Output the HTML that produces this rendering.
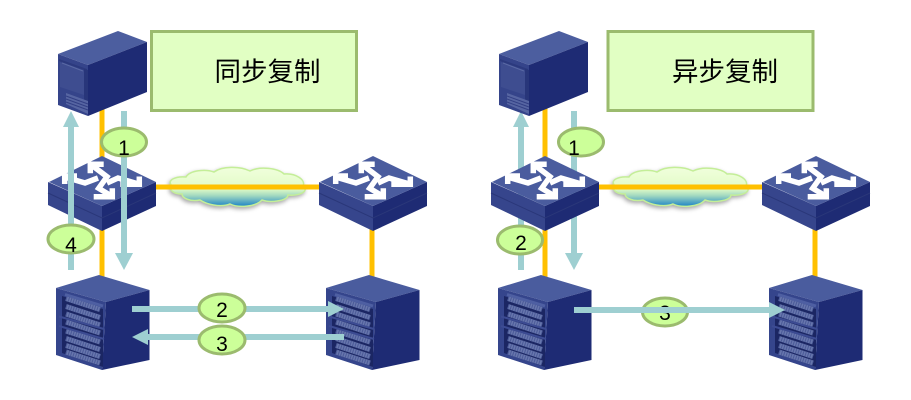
<!DOCTYPE html>
<html><head><meta charset="utf-8">
<style>
html,body{margin:0;padding:0;background:#fff;width:911px;height:400px;overflow:hidden}
svg{display:block}
text{font-family:"Liberation Sans","WenQuanYi Zen Hei","Noto Sans CJK SC",sans-serif;fill:#000}
</style></head><body>
<svg width="911" height="400" viewBox="0 0 911 400" xmlns="http://www.w3.org/2000/svg">
<defs>
<linearGradient id="cl" x1="0" y1="0" x2="0" y2="1">
<stop offset="0" stop-color="#f0ffdc"/><stop offset=".55" stop-color="#e2fbc6"/><stop offset=".72" stop-color="#a4dac0"/><stop offset="1" stop-color="#1c84c6"/>
</linearGradient>
<g id="server">
<polygon points="58,54 118,31 147,42 88,65" fill="#4c5e9f"/>
<polygon points="88,65 147,42 147,92 88,116" fill="#1e2b74"/>
<polygon points="58,54 88,65 88,116 58,105" fill="#35448a"/>
<polygon points="59,59 87,69 87,71 59,61" fill="#2c3a7e"/>
<polygon points="60,62 84,71 84,95 66,89 60,87" fill="#3e4d90"/>
<line x1="62" y1="63" x2="83" y2="71" stroke="#5a69a4" stroke-width="1"/>
<polygon points="84,69 88,70 88,102 84,100" fill="#28367a"/>
<polygon points="66,93 88,101 88,114 66,104" fill="#5665a2"/>
<path d="M66,96L88,104M66,99L88,107M66,102L88,110" stroke="#323f84" stroke-width="1"/>
</g>
<g id="switch">
<polygon points="48,182 102,206 102,231 48,205" fill="#36458c"/>
<polygon points="102,206 156,182 156,206 102,231" fill="#1e2b74"/>
<path d="M48,193L102,218L156,193" stroke="#2a3779" stroke-width="1" fill="none"/>
<polygon points="49,182 102,156 156,182 102,206" fill="#4a5c9e"/>
<g stroke="#fff" stroke-width="5.500" fill="none" stroke-linejoin="miter">
<path d="M91.500,165L107,176.700L98.700,188.300L111,195.700"/>
<path d="M103.700,164.300H90.300V173.300"/>
<path d="M93.700,196.700H112.300V188.300"/>
<path d="M64.700,177L85,183L98,178"/>
<path d="M77,176H64.700V184"/>
<path d="M139.300,184.300L118,178L107,183"/>
<path d="M139.300,176.500V184.300H120.300"/>
</g>
</g>
<g id="rack">
<polygon points="56,288 99,275 149.500,290 106,302" fill="#4a5c9e"/>
<polygon points="106,302 149.500,290 149.500,360 102,370" fill="#1e2b74"/>
<polygon points="56,288 106,302 102,370 56,355" fill="#35458c"/>
<polygon points="62,296 103,309 103,367 62,353" fill="#1b2663"/>
<g fill="none">
<g stroke="#6877ad" stroke-width="5">
<path d="M66,298.500L100,309.500M66,306.500L100,317.500M66,314L100,325M66,322L100,333M66,331L100,342M66,338.500L100,349.500M66,345.500L100,356.500M66,352L100,363"/>
</g>
<g stroke="#4b5a98" stroke-width="5" stroke-dasharray="1 1.500">
<path d="M66,298.500L100,309.500M66,306.500L100,317.500M66,314L100,325M66,322L100,333M66,331L100,342M66,338.500L100,349.500M66,345.500L100,356.500M66,352L100,363"/>
</g>
<path d="M59,316.500L104,329M59,326L104,339" stroke="#3c4b92" stroke-width="2"/>
<path d="M65,294.500L103,306" stroke="#4e5fa2" stroke-width="3"/>
</g>
</g>
<g id="cloud" style="filter:drop-shadow(-1px 2px 2px rgba(0,0,0,.35))">
<path d="M172,186C166,180 176,176 186,177C190,170 206,169 214,172C222,166 240,166 250,171C260,166 278,168 284,174C296,173 306,180 303,186C310,192 298,196 288,195C288,201 270,203 262,200C256,207 238,208 230,204C220,208 206,204 200,200C190,202 182,198 182,194C174,194 168,190 172,186Z" fill="url(#cl)" stroke="#c4ee98" stroke-width="1.500"/>
</g>
</defs>

<!-- boxes -->
<rect x="151.500" y="31.500" width="205" height="79" fill="#e1ffc3" stroke="#9bbb6e" stroke-width="3"/>
<rect x="608" y="31.500" width="205" height="79" fill="#e1ffc3" stroke="#9bbb6e" stroke-width="3"/>
<text x="267.500" y="81" font-size="26.500" text-anchor="middle">同步复制</text>
<text x="725" y="81" font-size="26.500" text-anchor="middle">异步复制</text>

<!-- clouds -->
<use href="#cloud"/>
<use href="#cloud" x="443"/>

<!-- orange links -->
<g stroke="#ffc000" stroke-width="5" fill="none">
<path d="M102,108V158M102,228V277M156,187H320M372,228V277"/>
<path d="M545,108V158M545,228V277M598,187H763M815,228V277"/>
</g>

<!-- right-side arrows behind switch -->
<g stroke="#9ecfd1" stroke-width="6" fill="none">
<path d="M521,270V125M574,111V255"/>
</g>
<polygon points="521,111 513,127 529,127" fill="#9ecfd1"/>
<polygon points="574,270 565,253 583,253" fill="#9ecfd1"/>

<!-- devices -->
<use href="#server"/>
<use href="#server" x="441"/>
<use href="#switch"/>
<use href="#switch" x="271"/>
<use href="#switch" x="443"/>
<use href="#switch" x="714"/>
<use href="#rack"/>
<use href="#rack" x="270"/>
<use href="#rack" x="442"/>
<use href="#rack" x="713"/>

<!-- left arrows -->
<g stroke="#9ecfd1" stroke-width="6" fill="none">
<path d="M71,270V125M124,111V255M132,309H330M344,337H146"/>
</g>
<polygon points="71,111 63,127 79,127" fill="#9ecfd1"/>
<polygon points="124,270 115,253 133,253" fill="#9ecfd1"/>
<polygon points="344,309 328,301 328,317" fill="#9ecfd1"/>
<polygon points="132,337 148,329 148,345" fill="#9ecfd1"/>

<!-- ellipses -->
<g fill="#ccff99" stroke="#9bbb6e" stroke-width="3">
<ellipse cx="124" cy="142" rx="22.500" ry="14"/>
<ellipse cx="71" cy="239" rx="23" ry="14"/>
<ellipse cx="222" cy="308" rx="23" ry="14"/>
<ellipse cx="222" cy="340" rx="23" ry="14"/>
<ellipse cx="581" cy="142" rx="22.500" ry="14"/>
<ellipse cx="520" cy="240" rx="22.500" ry="14"/>
<ellipse cx="665" cy="312" rx="22.500" ry="14"/>
</g>
<g font-size="21" text-anchor="middle">
<text x="124" y="155">1</text>
<text x="71" y="252">4</text>
<text x="222" y="317">2</text>
<text x="222" y="351">3</text>
<text x="574" y="155">1</text>
<text x="521" y="250">2</text>
<text x="665" y="320">3</text>
</g>

<!-- right horizontal arrow above ellipse -->
<path d="M574,310H771" stroke="#9ecfd1" stroke-width="6" fill="none"/>
<polygon points="785,310 769,302 769,318" fill="#9ecfd1"/>
</svg>
</body></html>
